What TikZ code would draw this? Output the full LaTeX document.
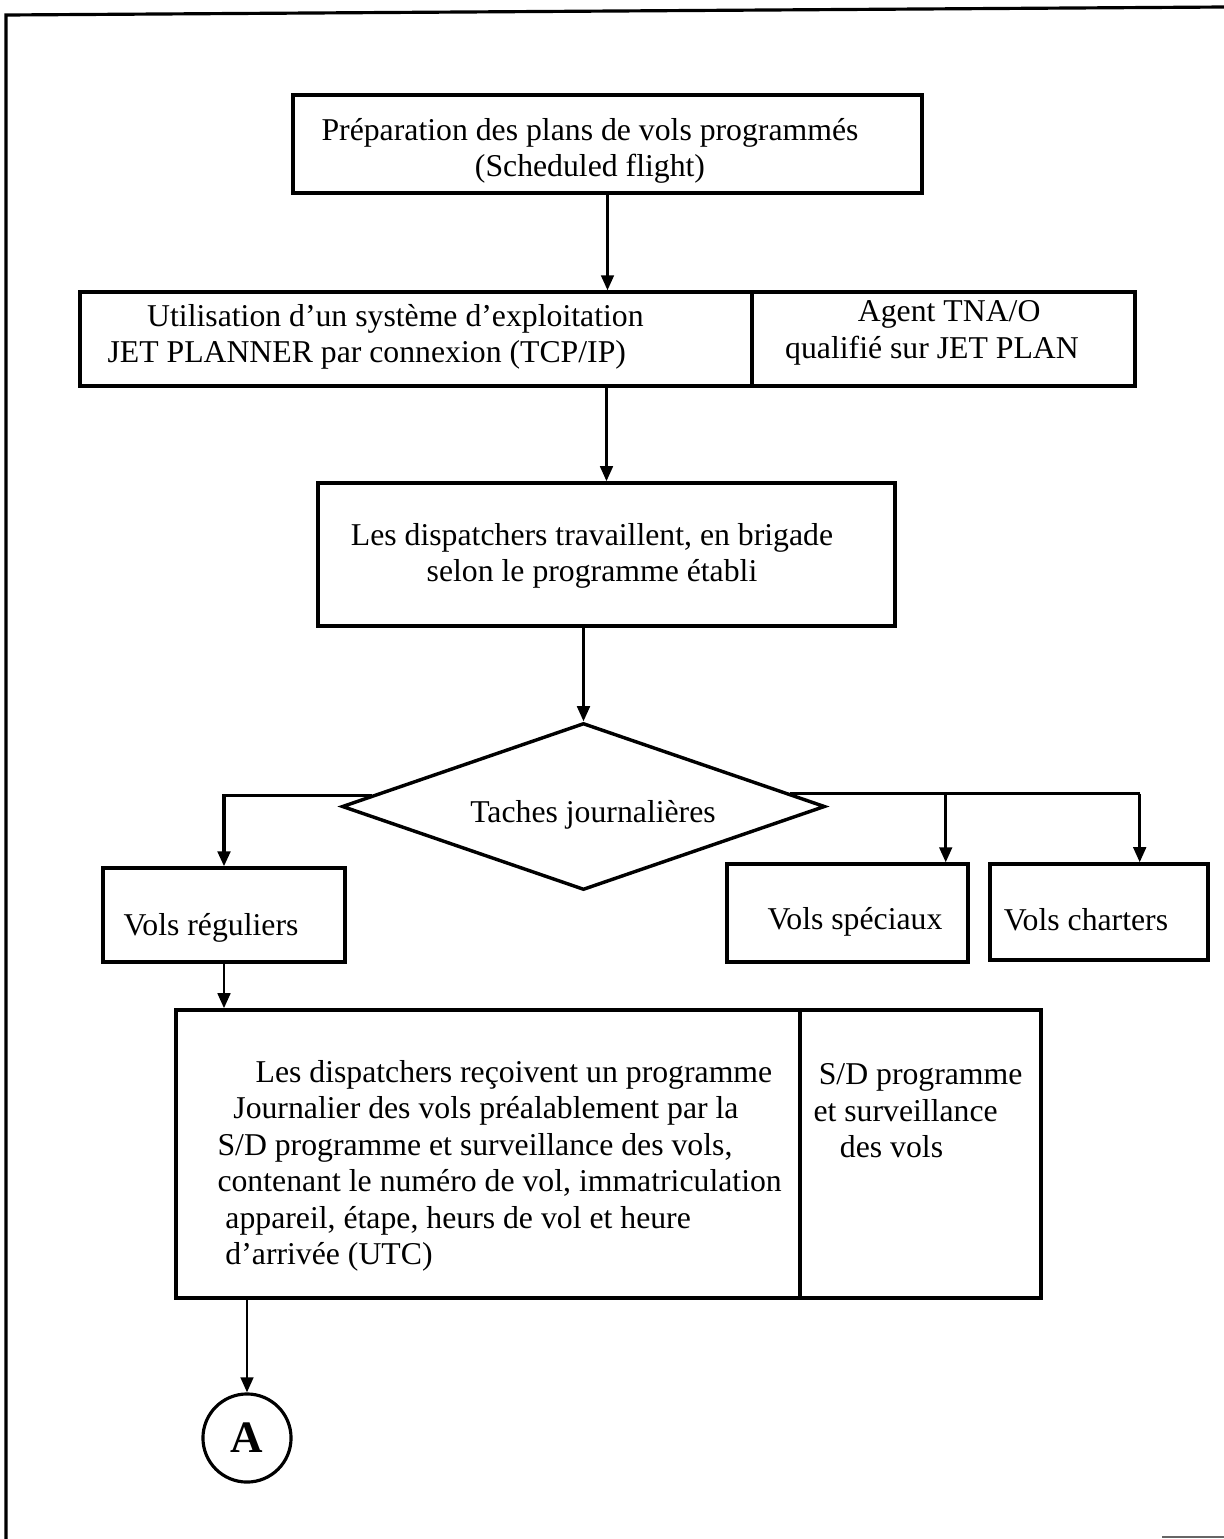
\documentclass[tikz,border=0pt]{standalone}
\usepackage{fontspec}
\setmainfont{Liberation Serif}
\usetikzlibrary{shapes.geometric,arrows.meta,calc}
\begin{document}
\begin{tikzpicture}[x=0.378pt,y=-0.378pt,
  box/.style={draw,line width=1.3pt,rectangle,inner sep=0pt},
  txt/.style={font=\fontsize{12}{13.8}\selectfont,inner sep=0pt},
  tip/.style={-{Triangle[length=5.7pt,width=4.8pt]}},
  flow/.style={line width=1pt,tip},
  link/.style={line width=1.2pt},
  frameline/.style={line width=1.2pt}]
\useasboundingbox (0,0) rectangle (1224,1539);

% page frame
\coordinate (f1) at (6,15);
\coordinate (f2) at (1224,7);
\coordinate (f3) at (6,1539);
\coordinate (f4) at (1162,1537);
\coordinate (f5) at (1224,1537);
\draw[frameline] (f2) -- (f1) -- (f3);
\draw[line width=0.8pt,black!60] (f4) -- (f5);

% boxes
\node[box,minimum width=237.8pt,minimum height=37pt] (b1) at (607.5,144) {};
\node[box,minimum width=254pt,minimum height=35.5pt] (b2l) at (416,339) {};
\node[box,minimum width=144.8pt,minimum height=35.5pt] (b2r) at (943.5,339) {};
\node[box,minimum width=218.1pt,minimum height=54.1pt] (b3) at (606.5,554.5) {};
\node[draw,line width=1.3pt,diamond,aspect=2.9,inner sep=0pt,
      minimum width=182.6pt,minimum height=63.1pt] (dia) at (583.5,806.5) {};
\node[box,minimum width=91.5pt,minimum height=35.5pt] (reg) at (224,915) {};
\node[box,minimum width=91.1pt,minimum height=37pt] (spe) at (847.5,913) {};
\node[box,minimum width=82.4pt,minimum height=36.3pt] (cha) at (1099,912) {};
\node[box,minimum width=235.9pt,minimum height=108.9pt] (b5l) at (488,1154) {};
\node[box,minimum width=91.1pt,minimum height=108.9pt] (b5r) at (920.5,1154) {};
\node[circle,draw,line width=1.2pt,minimum size=33.3pt,inner sep=0pt,
      font=\fontsize{17}{17}\selectfont\bfseries] (cA) at (247,1438) {A};

% texts
\node[txt,align=center] (t1) at (590,151)
  {Préparation des plans de vols programmés\\ (Scheduled flight)};
\node[txt,align=left,anchor=west] (t2l) at (107,337)
  {\hspace*{15pt}Utilisation d’un système d’exploitation\\ JET PLANNER par connexion (TCP/IP)};
\node[txt,align=center] (t2r) at (932,333)
  {\hspace*{13pt}Agent TNA/O\\ qualifié sur JET PLAN};
\node[txt,align=center] (t3) at (592,556)
  {Les dispatchers travaillent, en brigade\\ selon le programme établi};
\node[txt] (t4) at (593,815) {Taches journalières};
\node[txt] (t5) at (211,928) {Vols réguliers};
\node[txt] (t6) at (855,922) {Vols spéciaux};
\node[txt] (t7) at (1086,920) {Vols charters};
\node[txt,align=left,anchor=west] (t8) at (217,1166)
  {\hspace*{14.4pt}Les dispatchers reçoivent un programme\\
   \hspace*{6pt}Journalier des vols préalablement par la\\
   S/D programme et surveillance des vols,\\
   contenant le numéro de vol, immatriculation\\
   \hspace*{3pt}appareil, étape, heurs de vol et heure\\
   \hspace*{3pt}d’arrivée (UTC)};
\node[txt,align=left,anchor=west] (t9) at (813,1111)
  {\hspace*{2pt}S/D programme\\ et surveillance\\ \hspace*{10pt}des vols};

% connectors
\draw[flow] (b1.south) -- (b1.south |- b2l.north);
\draw[flow] (b3.north |- b2l.south) -- (b3.north);
\draw[flow] (dia.north |- b3.south) -- (dia.north);

\coordinate (dl) at ($(dia.north)!0.87!(dia.west)$);
\coordinate (dr) at ($(dia.north)!0.85!(dia.east)$);
\coordinate (spein) at ($(spe.north east)+(-24,0)$);
\coordinate (chain) at ($(cha.north east)+(-70,0)$);

\draw[link,tip] (dl) -| (reg.north);
\draw[link] (dr) -- (dr -| chain);
\draw[flow] (dr -| spein) -- (spein);
\draw[flow] (dr -| chain) -- (chain);

\draw[flow] (reg.south) -- (reg.south |- b5l.north);
\draw[flow] (cA.north |- b5l.south) -- (cA.north);
\end{tikzpicture}
\end{document}
